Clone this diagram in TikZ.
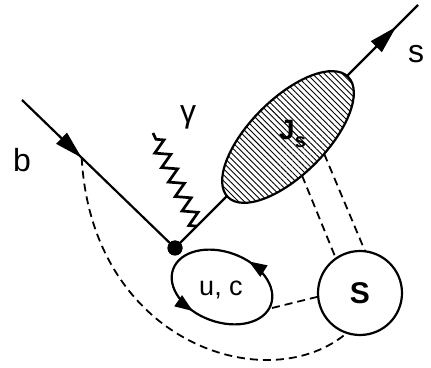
\documentclass[tikz,border=0pt]{standalone}
\usepackage{fontspec}
\setmainfont{Liberation Sans}
\usetikzlibrary{arrows.meta,positioning,shapes.geometric,decorations.markings,decorations.pathmorphing,patterns.meta}
\tikzset{fl/.style={line width=2.2pt},
 midarr/.style={postaction={decorate},decoration={markings,mark=at position #1 with {\arrow{Triangle[length=28pt,width=15pt]}}}},
 dsh/.style={line width=1.8pt,dash pattern=on 8pt off 5pt},
 photon/.style={line width=2.7pt,decorate,decoration={zigzag,segment length=16pt,amplitude=7pt}},
 vdot/.style={circle,fill,inner sep=0pt,minimum size=15pt},
 blob/.style={ellipse,draw,line width=2.2pt,inner sep=0pt,outer sep=0pt,minimum width=170pt,minimum height=76pt,
  preaction={fill=white},pattern={Lines[angle=-45,distance=4.2pt,line width=.9pt]}},
 softc/.style={circle,draw,line width=2.2pt,fill=white,inner sep=0pt,outer sep=0pt,minimum size=84pt},
 lab/.style={font=\fontsize{32}{32}\selectfont},
 smlab/.style={font=\fontsize{27}{27}\selectfont}}
\begin{document}
\begin{tikzpicture}[x=1pt,y=1pt]
\useasboundingbox (0,0) rectangle (431,367);
\coordinate (bin) at (22,267);
\coordinate (sout) at (418,362);
\coordinate (gtop) at (153,234);
\coordinate (ucc) at (222,80);
\node[vdot] (vtx) at (175,119) {};
% quark lines
\draw[fl,midarr=.39] (bin) -- coordinate[pos=.39] (bfoot) (vtx.center);
\draw[fl,midarr=.91] (vtx.center) -- coordinate[pos=.09] (gfoot) (sout);
\draw[photon] (gfoot) -- (gtop);
% soft gluon lines
\draw[dsh] (bfoot) .. controls (92,22) and (270,-33) .. (348,35);
\node[blob,rotate=45] (Js) at (288,230) {};
\node[softc] (S) at (360,74) {};
\draw[dsh] (Js.-115) -- (S.125);
\draw[dsh] (Js.-70) -- (S.83);
% u,c loop
\draw[fl,postaction={decorate},decoration={markings,
  mark=at position .19 with {\arrow{Triangle[length=18pt,width=13pt]}},
  mark=at position .68 with {\arrow{Triangle[length=18pt,width=13pt]}}}]
  (ucc) ellipse [x radius=52pt,y radius=35pt,rotate=-20];
\coordinate (ucr) at (272,59);
\draw[dsh] (ucr) -- (S.185);
\node[vdot] at (vtx) {};
% labels
\node[lab] (blab) at (22,207) {b};
\node[lab] (slab) at (416,313) {s};
\node[font=\fontsize{32}{32}\selectfont] (glab) at (188,250) {γ};
\node[smlab] (uclab) at (221,77) {u, c};
\node[font=\fontsize{30}{30}\selectfont] (Slab) at (S) {\bfseries S};
\node[anchor=base west,inner sep=0pt,font=\fontsize{28}{28}\selectfont] (Jlab) at (279,227)
  {\bfseries J\raisebox{-8pt}{\fontsize{20}{20}\selectfont s}};
\end{tikzpicture}
\end{document}
